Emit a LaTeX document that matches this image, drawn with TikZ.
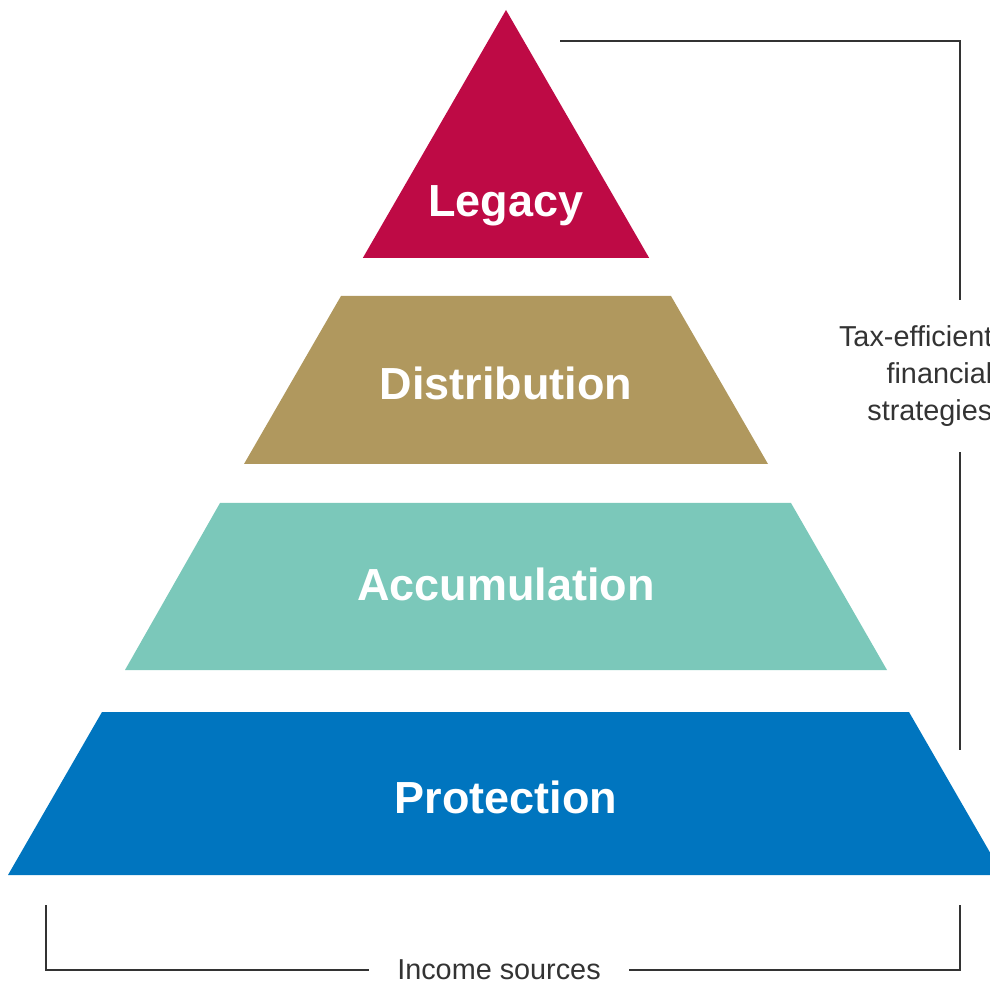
\documentclass[tikz,border=0pt]{standalone}
\usepackage{fontspec}
\setmainfont{Liberation Sans}
\usepackage{xcolor}
\usetikzlibrary{math}
\definecolor{qlegacy}{RGB}{190,10,69}
\definecolor{qdist}{RGB}{176,152,94}
\definecolor{qaccum}{RGB}{123,200,186}
\definecolor{qprot}{RGB}{0,117,191}
\definecolor{qline}{RGB}{51,51,51}
\tikzset{
  layerlabel/.style={text=white, font=\fontsize{12.8}{14}\bfseries\selectfont, anchor=base},
  notelabel/.style={text=qline, font=\fontsize{8.2}{10.5}\selectfont},
  bracket/.style={draw=qline, line width=0.5pt}
}

\begin{document}
\begin{tikzpicture}
\tikzmath{
\cx=5.06;
\s=0.5774;
}
\useasboundingbox (0,0) rectangle (9.90,9.81);
\clip (0,0) rectangle (9.90,9.81);

%layers
\fill[color=qlegacy] (\cx,9.71) -- (\cx+2.48*\s,7.23) -- (\cx-2.48*\s,7.23) -- cycle;
\fill[color=qdist] (3.41,6.85) -- (6.71,6.85) -- (7.68,5.17) -- (2.44,5.17) -- cycle;
\fill[color=qaccum] (2.20,4.78) -- (7.91,4.78) -- (8.87,3.11) -- (1.25,3.11) -- cycle;
\fill[color=qprot] (1.02,2.69) -- (9.09,2.69) -- (10.03,1.06) -- (0.08,1.06) -- cycle;

%labels
\node[layerlabel] (legacy) at (\cx,7.64) {Legacy};
\node[layerlabel] (dist) at (\cx,5.81) {Distribution};
\node[layerlabel] (accum) at (\cx,3.80) {Accumulation};
\node[layerlabel] (prot) at (\cx,1.68) {Protection};

%brackets
\node[notelabel, align=right, anchor=east, inner sep=0.25cm] (tax) at (10.18,6.05) {Tax-efficient\\financial\\strategies};
\node[notelabel, inner sep=0.28cm] (income) at (4.99,0.11) {Income sources};
\coordinate (taxtop) at (5.60,9.40);
\coordinate (taxbot) at (9.60,2.31);
\coordinate (incl) at (0.46,0.76);
\coordinate (incr) at (9.60,0.76);
\draw[bracket] (taxtop) -| (taxtop -| taxbot) -- (taxbot |- tax.north);
\draw[bracket] (taxbot |- tax.south) -- (taxbot);
\draw[bracket] (incl) |- (income.west);
\draw[bracket] (incr) |- (income.east);

\end{tikzpicture}
\end{document}
